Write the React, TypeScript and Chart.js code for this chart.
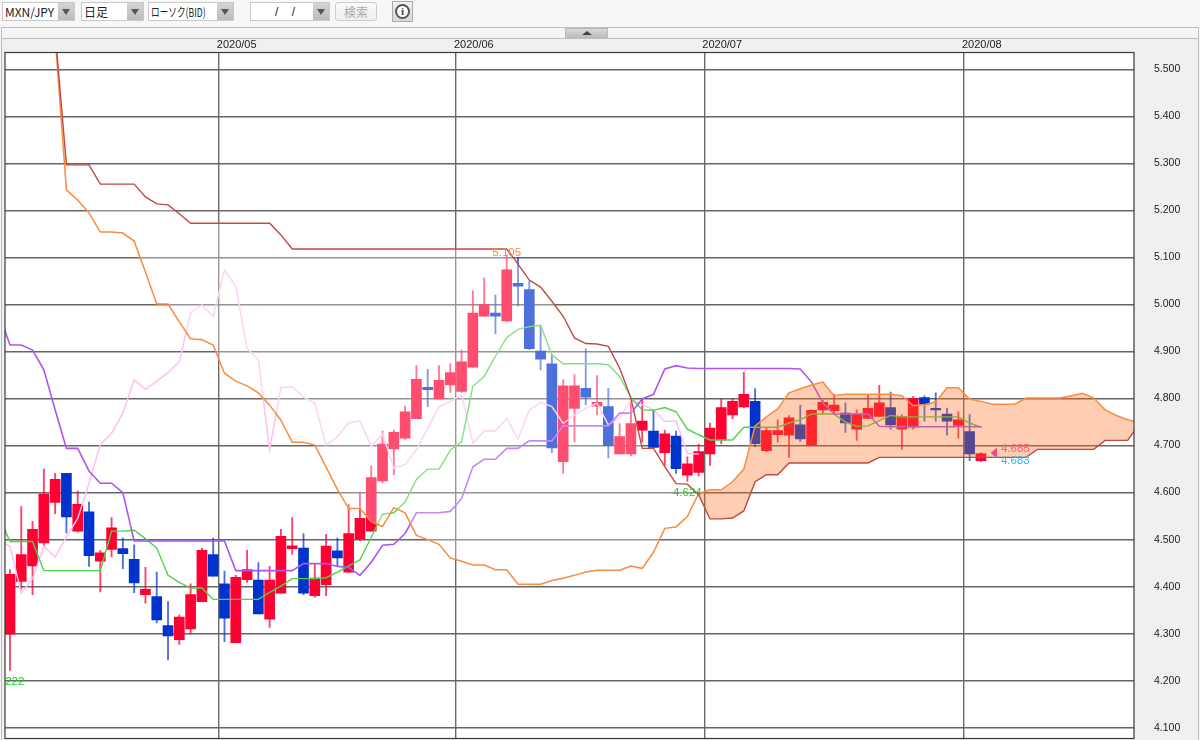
import React, { useEffect, useRef } from "react";
import { Chart, registerables } from "chart.js";

Chart.register(...registerables);

const PAIR = "MXN/JPY";
const TIMEFRAME = "日足";
const CHART_TYPE = "ローソク(BID)";
const DATE_VALUE = "/  /";
const SEARCH = "検索";

const START_DATE = "2020-04-06";
const MONTH_LABELS = ["2020/05", "2020/06", "2020/07", "2020/08"];
const MONTH_BOUNDARIES = [18.5, 39.5, 61.5, 84.5];
const Y_TICKS = [4.1, 4.2, 4.3, 4.4, 4.5, 4.6, 4.7, 4.8, 4.9, 5.0, 5.1, 5.2, 5.3, 5.4, 5.5];

const OPEN = [
  4.299, 4.411, 4.444, 4.493, 4.579, 4.641, 4.518, 4.559, 4.454, 4.479,
  4.481, 4.458, 4.383, 4.379, 4.317, 4.287, 4.31, 4.368, 4.468, 4.406,
  4.281, 4.415, 4.414, 4.331, 4.386, 4.481, 4.482, 4.381, 4.404, 4.476,
  4.431, 4.501, 4.518, 4.625, 4.693, 4.716, 4.757, 4.824, 4.799, 4.829,
  4.815, 4.867, 4.975, 4.982, 4.965, 5.045, 5.032, 4.901, 4.874, 4.666,
  4.779, 4.822, 4.784, 4.783, 4.682, 4.682, 4.733, 4.731, 4.685, 4.72,
  4.637, 4.643, 4.682, 4.712, 4.765, 4.782, 4.794, 4.689, 4.723, 4.722,
  4.744, 4.7, 4.776, 4.774, 4.769, 4.735, 4.758, 4.762, 4.781, 4.735,
  4.739, 4.802, 4.779, 4.767, 4.743, 4.73, 4.668,
];
const CLOSE = [
  4.426, 4.468, 4.522, 4.597, 4.628, 4.548, 4.575, 4.466, 4.472, 4.525,
  4.47, 4.408, 4.394, 4.329, 4.295, 4.335, 4.383, 4.477, 4.422, 4.333,
  4.42, 4.436, 4.342, 4.414, 4.507, 4.487, 4.386, 4.418, 4.486, 4.461,
  4.513, 4.545, 4.632, 4.703, 4.728, 4.772, 4.841, 4.819, 4.839, 4.855,
  4.878, 4.982, 5.0, 4.975, 5.074, 5.039, 4.906, 4.884, 4.695, 4.827,
  4.827, 4.803, 4.792, 4.7, 4.719, 4.747, 4.752, 4.696, 4.725, 4.651,
  4.661, 4.687, 4.737, 4.781, 4.794, 4.809, 4.704, 4.732, 4.732, 4.759,
  4.714, 4.775, 4.792, 4.786, 4.748, 4.767, 4.779, 4.791, 4.744, 4.761,
  4.8, 4.788, 4.776, 4.752, 4.755, 4.682, 4.683,
];
const HIGH = [
  4.436, 4.57, 4.539, 4.65, 4.641, 4.641, 4.603, 4.58, 4.477, 4.547,
  4.503, 4.489, 4.441, 4.431, 4.368, 4.34, 4.406, 4.482, 4.503, 4.433,
  4.424, 4.477, 4.451, 4.443, 4.522, 4.547, 4.513, 4.449, 4.511, 4.503,
  4.575, 4.6, 4.657, 4.731, 4.733, 4.784, 4.87, 4.862, 4.87, 4.874,
  4.903, 5.029, 5.057, 5.02, 5.105, 5.1, 5.05, 4.955, 4.893, 4.84,
  4.851, 4.906, 4.849, 4.822, 4.747, 4.8, 4.801, 4.776, 4.733, 4.731,
  4.676, 4.703, 4.748, 4.799, 4.799, 4.856, 4.821, 4.737, 4.755, 4.764,
  4.786, 4.776, 4.796, 4.809, 4.791, 4.776, 4.809, 4.828, 4.814, 4.766,
  4.805, 4.806, 4.812, 4.78, 4.772, 4.766, 4.685,
];
const LOW = [
  4.222, 4.394, 4.383, 4.486, 4.555, 4.514, 4.516, 4.443, 4.389, 4.463,
  4.438, 4.387, 4.365, 4.323, 4.244, 4.277, 4.299, 4.368, 4.422, 4.283,
  4.281, 4.409, 4.342, 4.313, 4.386, 4.469, 4.383, 4.377, 4.381, 4.443,
  4.431, 4.498, 4.518, 4.621, 4.638, 4.713, 4.757, 4.783, 4.799, 4.813,
  4.813, 4.867, 4.974, 4.938, 4.963, 4.997, 4.904, 4.861, 4.685, 4.641,
  4.708, 4.787, 4.765, 4.674, 4.682, 4.678, 4.708, 4.696, 4.657, 4.641,
  4.624, 4.635, 4.658, 4.704, 4.757, 4.78, 4.697, 4.687, 4.707, 4.675,
  4.709, 4.7, 4.767, 4.766, 4.728, 4.711, 4.758, 4.762, 4.735, 4.692,
  4.735, 4.752, 4.752, 4.722, 4.716, 4.668, 4.666,
];

const TENKAN_START = -1;
const TENKAN = [
  4.55, 4.496, 4.496, 4.496, 4.434, 4.434, 4.434, 4.434, 4.434, 4.434,
  4.518, 4.518, 4.52, 4.502, 4.482, 4.424, 4.409, 4.397, 4.397, 4.373,
  4.373, 4.373, 4.373, 4.373, 4.388, 4.401, 4.417, 4.417, 4.417, 4.419,
  4.431, 4.444, 4.457, 4.505, 4.554, 4.557, 4.58, 4.628, 4.65, 4.65,
  4.69, 4.708, 4.826, 4.847, 4.89, 4.93, 4.947, 4.953, 4.956, 4.893,
  4.874, 4.874, 4.874, 4.874, 4.872, 4.847, 4.802, 4.776, 4.775, 4.781,
  4.772, 4.735, 4.723, 4.712, 4.712, 4.712, 4.739, 4.739, 4.739, 4.739,
  4.748, 4.755, 4.767, 4.767, 4.767, 4.75, 4.741, 4.742, 4.753, 4.764,
  4.761, 4.761, 4.761, 4.761, 4.761, 4.761, 4.748, 4.739,
];
const KIJUN_START = -1;
const KIJUN = [
  4.982, 4.914, 4.914, 4.903, 4.861, 4.776, 4.694, 4.694, 4.646, 4.62,
  4.62, 4.6, 4.497, 4.497, 4.497, 4.497, 4.497, 4.497, 4.497, 4.497,
  4.497, 4.434, 4.434, 4.434, 4.434, 4.434, 4.434, 4.449, 4.449, 4.449,
  4.443, 4.441, 4.424, 4.452, 4.488, 4.49, 4.513, 4.557, 4.557, 4.557,
  4.56, 4.587, 4.655, 4.671, 4.671, 4.694, 4.694, 4.71, 4.71, 4.71,
  4.742, 4.742, 4.742, 4.742, 4.742, 4.769, 4.769, 4.799, 4.809, 4.863,
  4.87, 4.865, 4.864, 4.864, 4.864, 4.864, 4.864, 4.864, 4.864, 4.864,
  4.864, 4.863, 4.835, 4.791, 4.767, 4.767, 4.767, 4.767, 4.741, 4.74,
  4.74, 4.74, 4.74, 4.74, 4.74, 4.74, 4.74, 4.74,
];
const CHIKOU_START = -1;
const CHIKOU = [
  4.5, 4.486, 4.386, 4.417, 4.486, 4.463, 4.506, 4.545, 4.62, 4.702,
  4.726, 4.769, 4.84, 4.819, 4.837, 4.855, 4.878, 4.982, 4.999, 4.975,
  5.073, 5.039, 4.906, 4.883, 4.691, 4.824, 4.824, 4.803, 4.79, 4.701,
  4.719, 4.748, 4.752, 4.698, 4.725, 4.652, 4.66, 4.691, 4.737, 4.782,
  4.794, 4.808, 4.705, 4.731, 4.731, 4.758, 4.714, 4.775, 4.792, 4.783,
  4.747, 4.765, 4.779, 4.79, 4.744, 4.76, 4.796, 4.787, 4.776, 4.751,
  4.752, 4.683, 4.682,
];
const SPAN_START = 4;
const SPAN_A = [
  5.57, 5.244, 5.222, 5.195, 5.154, 5.154, 5.152, 5.135, 5.069, 5.001,
  5.001, 4.963, 4.927, 4.925, 4.914, 4.854, 4.837, 4.827, 4.812, 4.786,
  4.754, 4.707, 4.707, 4.701, 4.654, 4.607, 4.566, 4.566, 4.538, 4.528,
  4.568, 4.557, 4.509, 4.5, 4.49, 4.461, 4.454, 4.446, 4.446, 4.436,
  4.436, 4.405, 4.405, 4.405, 4.413, 4.418, 4.424, 4.431, 4.435, 4.435,
  4.435, 4.444, 4.439, 4.473, 4.524, 4.527, 4.549, 4.598, 4.606, 4.606,
  4.623, 4.65, 4.742, 4.761, 4.778, 4.812, 4.821, 4.829, 4.835, 4.806,
  4.809, 4.809, 4.809, 4.809, 4.809, 4.806, 4.785, 4.787, 4.793, 4.823,
  4.823, 4.799, 4.794, 4.788, 4.788, 4.788, 4.801, 4.801, 4.801, 4.801,
  4.806, 4.811, 4.801, 4.776, 4.764, 4.755, 4.749,
];
const SPAN_B = [
  5.58, 5.297, 5.297, 5.297, 5.256, 5.256, 5.256, 5.256, 5.229, 5.214,
  5.212, 5.193, 5.173, 5.173, 5.173, 5.173, 5.173, 5.173, 5.173, 5.173,
  5.148, 5.118, 5.118, 5.118, 5.118, 5.118, 5.118, 5.118, 5.118, 5.118,
  5.118, 5.118, 5.118, 5.118, 5.118, 5.118, 5.118, 5.118, 5.118, 5.118,
  5.118, 5.086, 5.052, 5.037, 5.007, 4.975, 4.929, 4.917, 4.916, 4.911,
  4.865, 4.801, 4.694, 4.694, 4.655, 4.619, 4.618, 4.595, 4.544, 4.544,
  4.546, 4.561, 4.623, 4.638, 4.638, 4.663, 4.663, 4.663, 4.663, 4.663,
  4.663, 4.663, 4.663, 4.675, 4.675, 4.675, 4.675, 4.675, 4.675, 4.675,
  4.675, 4.675, 4.675, 4.675, 4.675, 4.675, 4.675, 4.692, 4.692, 4.692,
  4.692, 4.692, 4.692, 4.711, 4.711, 4.711, 4.745,
];

const HIGH_MARK = { index: 44, value: 5.105, text: "5.105" };
const LOW_MARKS = [
  { index: 60, value: 4.624, text: "4.624" },
  { index: 0, value: 4.222, text: "4.222" },
];
const ASK_MARK = { index: 86, value: 4.685, text: "4.685" };
const BID_MARK = { index: 86, value: 4.683, text: "4.683" };

const UP = "#FF0033";
const DOWN = "#0033CC";
const AXIS_FONT = '"Liberation Sans", sans-serif';
const MARK_FONT = '11.5px "Liberation Sans", sans-serif';

const series = (values: number[], start: number) =>
  values.map((y, k) => ({ x: start + k, y }));

const lineDefaults = { type: "line", pointRadius: 0, tension: 0, fill: false, borderCapStyle: "round" };

const overlayPlugin = {
  id: "overlay",
  beforeDraw(chart: any) {
    const { ctx, chartArea: a } = chart;
    ctx.save();
    ctx.fillStyle = "#FFFFFF";
    ctx.fillRect(a.left, a.top, a.right - a.left, a.bottom - a.top);
    ctx.restore();
  },
  afterDatasetsDraw(chart: any) {
    const { ctx, chartArea: a, scales } = chart;
    const { x, y } = scales;
    ctx.save();
    ctx.beginPath();
    ctx.rect(a.left, a.top, a.right - a.left, a.bottom - a.top);
    ctx.clip();
    ctx.font = MARK_FONT;
    ctx.textAlign = "center";
    ctx.textBaseline = "alphabetic";
    ctx.fillStyle = "#F58A3C";
    ctx.fillText(HIGH_MARK.text, x.getPixelForValue(HIGH_MARK.index), y.getPixelForValue(HIGH_MARK.value) + 1);
    ctx.fillStyle = "#22CC22";
    for (const m of LOW_MARKS) {
      ctx.fillText(m.text, x.getPixelForValue(m.index), y.getPixelForValue(m.value) + 15);
    }
    const tri = (mark: { index: number; value: number }, color: string) => {
      const tip = x.getPixelForValue(mark.index) + 10;
      const py = y.getPixelForValue(mark.value);
      ctx.fillStyle = color;
      ctx.beginPath();
      ctx.moveTo(tip, py);
      ctx.lineTo(tip + 6, py - 5);
      ctx.lineTo(tip + 6, py + 5);
      ctx.closePath();
      ctx.fill();
    };
    tri(BID_MARK, "#33BBEE");
    tri(ASK_MARK, "#FF4477");
    ctx.textAlign = "left";
    ctx.fillStyle = "#FF5A80";
    ctx.fillText(ASK_MARK.text, x.getPixelForValue(ASK_MARK.index) + 20, y.getPixelForValue(ASK_MARK.value) - 1);
    ctx.fillStyle = "#33BBEE";
    ctx.fillText(BID_MARK.text, x.getPixelForValue(BID_MARK.index) + 20, y.getPixelForValue(BID_MARK.value) + 10);
    ctx.restore();
    ctx.save();
    ctx.strokeStyle = "#3A3A3A";
    ctx.lineWidth = 1.2;
    ctx.strokeRect(a.left, a.top, a.right - a.left, a.bottom - a.top);
    ctx.restore();
  },
};

const tradingDates = () => {
  const out: string[] = [];
  const d = new Date(START_DATE + "T00:00:00Z");
  while (out.length < OPEN.length) {
    const w = d.getUTCDay();
    if (w !== 0 && w !== 6) out.push(d.toISOString().slice(0, 10));
    d.setUTCDate(d.getUTCDate() + 1);
  }
  return out;
};

function Drop({ left, width, text, stretch }: { left: number; width: number; text: string; stretch?: number }) {
  return (
    <div style={{ position: "absolute", left, top: 2, height: 19, width: width + 17, boxSizing: "border-box", border: "1px solid #C8C8C8", background: "#FFF" }}>
      <span style={{ position: "absolute", left: 2, top: 1, fontSize: 12, lineHeight: "16px", color: "#222", whiteSpace: "nowrap", fontFamily: '"Noto Sans CJK JP", "Liberation Sans", sans-serif', display: "inline-block", transform: stretch ? `scaleX(${stretch})` : undefined, transformOrigin: "left center" }}>{text}</span>
      <div style={{ position: "absolute", right: 0, top: 0, width: 16, height: 17, background: "linear-gradient(#D4D4D4,#BCBCBC)" }}>
        <div style={{ position: "absolute", left: 4, top: 6, width: 0, height: 0, borderLeft: "4px solid transparent", borderRight: "4px solid transparent", borderTop: "6px solid #555" }} />
      </div>
    </div>
  );
}

export default function App() {
  const ref = useRef<HTMLCanvasElement | null>(null);
  useEffect(() => {
    const dates = tradingDates();
    const idx = OPEN.map((_, i) => i);
    const colors = idx.map((i) => (CLOSE[i] >= OPEN[i] ? UP : DOWN));
    const wickColors = idx.map((i) => (CLOSE[i] >= OPEN[i] ? "rgba(255,0,51,0.75)" : "rgba(0,51,204,0.7)"));
    const chart = new Chart(ref.current as HTMLCanvasElement, {
      type: "bar",
      data: {
        datasets: [
          {
            label: "Wick",
            data: idx.map((i) => ({ x: i, y: [LOW[i], HIGH[i]], date: dates[i] })),
            backgroundColor: wickColors,
            barThickness: 1.2,
            grouped: false,
            order: 10,
          },
          {
            label: "Body",
            data: idx.map((i) => ({ x: i, y: [OPEN[i], CLOSE[i]], date: dates[i] })),
            backgroundColor: colors,
            barThickness: 10,
            grouped: false,
            order: 9,
          },
          { ...lineDefaults, label: "Chikou", data: series(CHIKOU, CHIKOU_START), borderColor: "#FFBFF4", borderWidth: 1.5, order: 8 },
          { ...lineDefaults, label: "Tenkan", data: series(TENKAN, TENKAN_START), borderColor: "#4FD24A", borderWidth: 1.4, order: 7 },
          { ...lineDefaults, label: "Kijun", data: series(KIJUN, KIJUN_START), borderColor: "#AD55F2", borderWidth: 1.6, order: 6 },
          {
            ...lineDefaults,
            label: "SpanA",
            data: series(SPAN_A, SPAN_START),
            borderColor: "#F98B42",
            borderWidth: 1.5,
            order: 5,
            fill: { target: 6, above: "rgba(255,110,30,0.34)", below: "rgba(255,255,255,0.3)" },
          },
          { ...lineDefaults, label: "SpanB", data: series(SPAN_B, SPAN_START), borderColor: "#BE4A40", borderWidth: 1.4, order: 4 },
        ],
      },
      options: {
        animation: false,
        responsive: false,
        devicePixelRatio: 1,
        layout: { padding: { left: 5, top: 38, right: 0, bottom: 1.5 } },
        plugins: { legend: { display: false }, tooltip: { enabled: false } },
        scales: {
          x: {
            type: "linear",
            position: "top",
            min: -0.44,
            max: 99.56,
            offset: false,
            afterBuildTicks: (s: any) => {
              s.ticks = MONTH_BOUNDARIES.map((value) => ({ value }));
            },
            afterFit: (s: any) => {
              s.height = 14.5;
              s.paddingLeft = 0;
              s.paddingRight = 0;
            },
            grid: { offset: false, color: "#6A6A6A", lineWidth: 1.4, drawTicks: false },
            border: { display: false },
            ticks: {
              autoSkip: false,
              maxRotation: 0,
              align: "start",
              labelOffset: -2,
              padding: 1,
              color: "#222",
              font: { family: AXIS_FONT, size: 11 },
              callback: (v: any) => MONTH_LABELS[MONTH_BOUNDARIES.indexOf(Number(v))] ?? "",
            },
          },
          y: {
            position: "right",
            min: 4.077,
            max: 5.536,
            afterBuildTicks: (s: any) => {
              s.ticks = Y_TICKS.map((value) => ({ value }));
            },
            afterFit: (s: any) => {
              s.width = 66;
              s.paddingTop = 0;
              s.paddingBottom = 0;
            },
            grid: { color: "#666666", lineWidth: 1.4, drawTicks: false },
            border: { display: false },
            ticks: {
              padding: 20,
              color: "#222",
              font: { family: AXIS_FONT, size: 10.5 },
              callback: (v: any) => Number(v).toFixed(3),
            },
          },
        },
      },
      plugins: [overlayPlugin],
    } as any);
    return () => chart.destroy();
  }, []);

  return (
    <div style={{ position: "fixed", left: 0, top: 0, width: 1200, height: 740, overflow: "hidden", background: "#F7F7F7" }}>
      <Drop left={2} width={56} text={PAIR} />
      <Drop left={81} width={46} text={TIMEFRAME} />
      <Drop left={148} width={69} text={CHART_TYPE} stretch={0.72} />
      <div style={{ position: "absolute", left: 250, top: 2, height: 19, width: 80, boxSizing: "border-box", border: "1px solid #C8C8C8", background: "#FFF" }}>
        <span style={{ position: "absolute", left: 24, top: 1, fontSize: 12, lineHeight: "16px", color: "#222", whiteSpace: "pre", fontFamily: '"Liberation Sans", sans-serif' }}>{DATE_VALUE.replace("  ", "    ")}</span>
        <div style={{ position: "absolute", right: 0, top: 0, width: 16, height: 17, background: "linear-gradient(#D4D4D4,#BCBCBC)" }}>
          <div style={{ position: "absolute", left: 4, top: 6, width: 0, height: 0, borderLeft: "4px solid transparent", borderRight: "4px solid transparent", borderTop: "6px solid #555" }} />
        </div>
      </div>
      <div style={{ position: "absolute", left: 335, top: 2, width: 42, height: 19, boxSizing: "border-box", border: "1px solid #CCC", borderRadius: 3, background: "linear-gradient(#FAFAFA,#EEE)", textAlign: "center", fontSize: 12, lineHeight: "17px", color: "#AAA", fontFamily: '"Noto Sans CJK JP", sans-serif' }}>{SEARCH}</div>
      <div style={{ position: "absolute", left: 392, top: 1, width: 21, height: 21, boxSizing: "border-box", border: "1px solid #AAA", background: "linear-gradient(#F2F2F2,#D8D8D8)" }}>
        <div style={{ position: "absolute", left: 2, top: 2, width: 15, height: 15, boxSizing: "border-box", borderRadius: "50%", border: "2px solid #555", background: "#FFF", textAlign: "center", fontFamily: '"Liberation Serif", serif', fontWeight: 700, fontSize: 11, lineHeight: "11px", color: "#444" }}>i</div>
      </div>
      <div style={{ position: "absolute", left: 1, top: 27, width: 1198, height: 713, boxSizing: "border-box", border: "1px solid #BDBDBD", borderBottom: "none", background: "#F0F0F0" }} />
      <div style={{ position: "absolute", left: 2, top: 28, width: 1196, height: 10, background: "#F5F5F5", borderBottom: "1px solid #BDBDBD" }} />
      <div style={{ position: "absolute", left: 565, top: 28, width: 43, height: 10, boxSizing: "border-box", border: "1px solid #BBB", background: "linear-gradient(#D9D9D9,#BDBDBD)" }}>
        <div style={{ position: "absolute", left: 16, top: 2, width: 0, height: 0, borderLeft: "5px solid transparent", borderRight: "5px solid transparent", borderBottom: "4px solid #444" }} />
      </div>
      <canvas ref={ref} width={1200} height={740} style={{ position: "absolute", left: 0, top: 0, display: "block" }} />
    </div>
  );
}
